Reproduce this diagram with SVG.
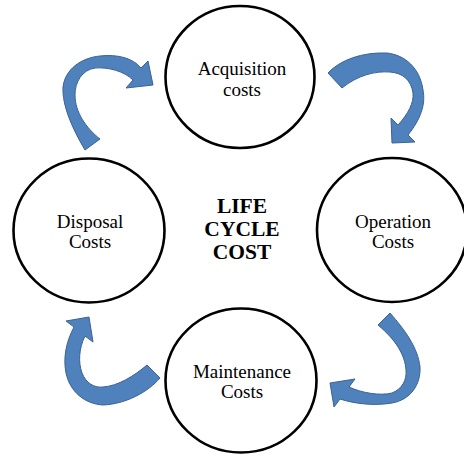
<svg xmlns="http://www.w3.org/2000/svg" width="464" height="462" viewBox="0 0 464 462">
<style>
.node{fill:#fff;stroke:#000;stroke-width:2.6}
.lbl{font-family:"Liberation Serif","Times New Roman",serif;font-size:19px;fill:#000;text-anchor:middle}
.title{font-family:"Liberation Serif","Times New Roman",serif;font-size:21.5px;font-weight:bold;fill:#000;text-anchor:middle}
.arr{fill:#4F81BD;stroke:#3A6391;stroke-width:1;stroke-linejoin:round}
</style>
<rect width="464" height="462" fill="#fff"/>
<g id="connectors">
<path class="arr" d="M85,150 C72,128 62,105 63,87 C65,70 80,58 100,56 C117,54 133,58 141,68 L148,61 L153,85 L126,88 L133,80 C124,71 108,67 95,68 C82,70 75,82 75,95 C75,112 86,128 100,139 Z"/>
<path class="arr" d="M328,73 C340,60 362,52 387,53 C405,55 420,68 423,90 C426,105 420,120 408,135 L415,142 L392,143 L391,118 L398,125 C408,114 414,103 413,93 C411,80 403,73 390,72 C375,71 358,75 342,88 Z"/>
<path class="arr" d="M390,313 C405,330 418,348 420,367 C421,385 410,400 392,403 C375,406 355,404 340,399 L334,407 L330,383 L355,379 L349,387 C362,393 380,396 392,393 C402,389 407,380 406,370 C405,355 396,340 378,325 Z"/>
<path class="arr" d="M160,378 C148,392 126,404 103,405 C85,404 70,392 66,373 C63,358 66,342 74,327 L66,321 L89,317 L93,342 L85,336 C79,348 78,362 82,373 C86,383 94,388 103,387 C118,386 134,376 147,365 Z"/>
</g>
<g id="acquisition">
<ellipse class="node" cx="240" cy="77" rx="74.5" ry="71"/>
<text class="lbl" x="242" y="75">Acquisition</text>
<text class="lbl" x="242" y="96">costs</text>
</g>
<g id="operation">
<ellipse class="node" cx="392" cy="230" rx="75" ry="72"/>
<text class="lbl" x="393" y="228">Operation</text>
<text class="lbl" x="393" y="248">Costs</text>
</g>
<g id="maintenance">
<ellipse class="node" cx="241" cy="380.5" rx="75.5" ry="72"/>
<text class="lbl" x="242" y="378">Maintenance</text>
<text class="lbl" x="242" y="398">Costs</text>
</g>
<g id="disposal">
<ellipse class="node" cx="89" cy="230.5" rx="75.5" ry="72"/>
<text class="lbl" x="90" y="228">Disposal</text>
<text class="lbl" x="90" y="248">Costs</text>
</g>
<g id="center">
<text class="title" x="242" y="213">LIFE</text>
<text class="title" x="242" y="236">CYCLE</text>
<text class="title" x="242" y="259">COST</text>
</g>
</svg>
